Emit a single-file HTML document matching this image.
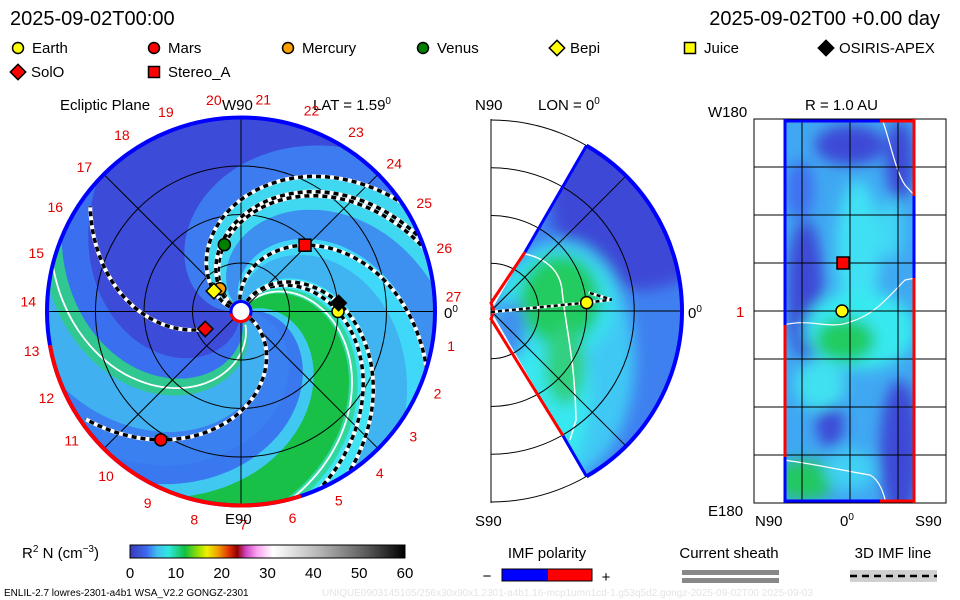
<!DOCTYPE html>
<html><head><meta charset="utf-8"><style>
html,body{margin:0;padding:0;background:#fff;}
svg{display:block;font-family:"Liberation Sans",sans-serif;}
</style></head><body>
<svg id="s" width="960" height="600" viewBox="0 0 960 600" xmlns="http://www.w3.org/2000/svg">
<defs>
<clipPath id="cMain"><circle cx="241" cy="311.5" r="194"/></clipPath>
<clipPath id="cWedge"><path d="M491,311 L586.5,145.6 A191,191 0 0 1 586.5,476.4 Z"/></clipPath>
<clipPath id="cBox"><rect x="784" y="119" width="131" height="384"/></clipPath>
<filter id="bl" x="-50%" y="-50%" width="200%" height="200%"><feGaussianBlur stdDeviation="7"/></filter>
<linearGradient id="cbar" x1="0" x2="1" y1="0" y2="0">
<stop offset="0" stop-color="#3a3ab8"/><stop offset="0.06" stop-color="#3c6af0"/><stop offset="0.1" stop-color="#40c0f0"/><stop offset="0.14" stop-color="#30e8e0"/><stop offset="0.2" stop-color="#10c040"/><stop offset="0.25" stop-color="#a0e000"/><stop offset="0.28" stop-color="#f0f000"/><stop offset="0.32" stop-color="#f0a000"/><stop offset="0.36" stop-color="#e03000"/><stop offset="0.39" stop-color="#900000"/><stop offset="0.42" stop-color="#d040c0"/><stop offset="0.46" stop-color="#f8a0f0"/><stop offset="0.52" stop-color="#ffffff"/><stop offset="0.7" stop-color="#b0b0b0"/><stop offset="0.85" stop-color="#606060"/><stop offset="1" stop-color="#000000"/>
</linearGradient>
</defs>

<text x="10" y="25" font-size="20">2025-09-02T00:00</text>
<text x="940" y="25" font-size="20" text-anchor="end">2025-09-02T00 +0.00 day</text>

<g id="legend" font-size="15"></g>

<g id="main">
<text x="60" y="110" font-size="15">Ecliptic Plane</text>
<text x="313" y="110" font-size="15">LAT = 1.59<tspan dy="-6" font-size="10">0</tspan></text>
<g id="mainField" clip-path="url(#cMain)"></g>
<g id="mainGrid"></g>
<g id="mainLines" clip-path="url(#cMain)"></g>
<g id="mainRim"></g>
<g id="mainLabels" font-size="14" fill="#e00000"></g>
<text x="222" y="110" font-size="15">W90</text>
<text x="225" y="524" font-size="15">E90</text>
<text x="444" y="318" font-size="15">0<tspan dy="-6" font-size="10">0</tspan></text>
<g id="mainPlanets"></g>
</g>

<g id="mid">
<text x="475" y="110" font-size="15">N90</text>
<text x="538" y="110" font-size="15">LON = 0<tspan dy="-6" font-size="10">0</tspan></text>
<text x="475" y="526" font-size="15">S90</text>
<text x="688" y="318" font-size="15">0<tspan dy="-6" font-size="10">0</tspan></text>
<g id="midArcs" fill="none" stroke="#000" stroke-width="1"></g>
<g clip-path="url(#cWedge)">
<rect x="491" y="119" width="200" height="385" fill="#3f80f0"/>
<g filter="url(#bl)">
<circle cx="640" cy="200" r="90" fill="#3c48d6"/>
<circle cx="600" cy="150" r="60" fill="#3c48d6"/>
<ellipse cx="560" cy="360" rx="75" ry="120" fill="#40c8f4"/>
<ellipse cx="545" cy="390" rx="45" ry="95" fill="#38e8f0"/>
<ellipse cx="555" cy="305" rx="60" ry="55" fill="#38e0f0"/>
<ellipse cx="560" cy="300" rx="40" ry="45" fill="#20cc60"/>
<ellipse cx="565" cy="365" rx="20" ry="40" fill="#30d080"/>
<ellipse cx="510" cy="330" rx="16" ry="30" fill="#3f90f0"/>
</g>
<path d="M525,254 C545,258 560,270 562,290 C566,330 575,360 576,420 L570,440" fill="none" stroke="#fff" stroke-width="1.5"/>
</g>
<g id="midGrid" stroke="#000" stroke-width="1" fill="none"></g>
<g id="midRim"></g>
<g id="midMarks"></g>
</g>

<g id="right">
<text x="805" y="110" font-size="15">R = 1.0 AU</text>
<text x="708" y="117" font-size="15">W180</text>
<text x="708" y="516" font-size="15">E180</text>
<text x="736" y="317" font-size="15" fill="#e00000">1</text>
<text x="755" y="526" font-size="15">N90</text>
<text x="840" y="526" font-size="15">0<tspan dy="-6" font-size="10">0</tspan></text>
<text x="915" y="526" font-size="15">S90</text>
<g clip-path="url(#cBox)">
<rect x="784" y="119" width="131" height="384" fill="#40a8f2"/>
<g filter="url(#bl)">
<ellipse cx="805" cy="290" rx="18" ry="70" fill="#3c48d6"/>
<ellipse cx="850" cy="145" rx="35" ry="20" fill="#3c48d6"/>
<ellipse cx="900" cy="450" rx="20" ry="70" fill="#3c48d6"/>
<ellipse cx="900" cy="160" rx="14" ry="40" fill="#3c48d6"/>
<ellipse cx="830" cy="425" rx="14" ry="22" fill="#3c48d6"/>
<ellipse cx="800" cy="190" rx="14" ry="30" fill="#3f70f0"/>
<ellipse cx="858" cy="250" rx="22" ry="70" fill="#40e0f4"/>
<ellipse cx="860" cy="330" rx="55" ry="40" fill="#38e8f0"/>
<ellipse cx="845" cy="340" rx="30" ry="22" fill="#20cc60"/>
<ellipse cx="820" cy="385" rx="25" ry="25" fill="#40e0f0"/>
<ellipse cx="805" cy="480" rx="30" ry="20" fill="#20c860"/>
<ellipse cx="850" cy="470" rx="25" ry="20" fill="#40d0f4"/>
<ellipse cx="890" cy="230" rx="12" ry="30" fill="#40d8f4"/>
</g>
<path d="M784,325 C810,318 830,330 850,322 C875,315 890,295 905,280 L915,278" fill="none" stroke="#fff" stroke-width="1.2"/>
<path d="M784,460 C820,465 840,470 870,475 C880,480 884,495 886,503" fill="none" stroke="#fff" stroke-width="1.2"/>
<path d="M882,119 C890,140 895,170 905,185 L915,196" fill="none" stroke="#fff" stroke-width="1.2"/>
</g>
<g id="rightGrid" stroke="#000" stroke-width="1"></g>
<g id="rightMarks"></g>
</g>

<g>
<text x="22" y="558" font-size="15">R<tspan dy="-6" font-size="10">2</tspan><tspan dy="6"> N (cm</tspan><tspan dy="-6" font-size="10">−3</tspan><tspan dy="6">)</tspan></text>
<rect x="130" y="545" width="275" height="13" fill="url(#cbar)" stroke="#000" stroke-width="1"/>
<g id="cbTicks" font-size="15" text-anchor="middle"></g>
</g>
<g>
<text x="547" y="558" font-size="15" text-anchor="middle">IMF polarity</text>
<text x="487" y="581" font-size="15" text-anchor="middle">−</text>
<rect x="502" y="569" width="46" height="12" fill="#0000ff"/>
<rect x="548" y="569" width="44" height="12" fill="#ff0000"/>
<rect x="502" y="569" width="90" height="12" fill="none" stroke="#000"/>
<text x="606" y="582" font-size="15" text-anchor="middle">+</text>
</g>
<g>
<text x="729" y="558" font-size="15" text-anchor="middle">Current sheath</text>
<rect x="682" y="570" width="97" height="5" fill="#888"/>
<rect x="682" y="578" width="97" height="5" fill="#888"/>
</g>
<g>
<text x="893" y="558" font-size="15" text-anchor="middle">3D IMF line</text>
<rect x="850" y="570" width="87" height="12" fill="#d0d0d0"/>
<line x1="850" y1="576" x2="937" y2="576" stroke="#000" stroke-width="2.5" stroke-dasharray="7,5"/>
</g>
<text x="4" y="596" font-size="10">ENLIL-2.7 lowres-2301-a4b1 WSA_V2.2 GONGZ-2301</text>
<text x="322" y="596" font-size="10" fill="#e4e4e4">UNIQUE0903145105/256x30x90x1.2301-a4b1.16-mcp1umn1cd-1.g53q5d2.gongz-2025-09-02T00   2025-09-03</text>
</svg>
<script>
// ---- data ----
const planetNames = ["Earth","Mars","Mercury","Venus","Bepi","SolO","Stereo_A","OSIRIS-APEX"];
const planetR = [1.0, 1.56, 0.32, 0.71, 0.35, 0.41, 0.95, 1.01];
const planetLon = [0, 238, 133, 104, 143, 206, 46, 5];
const planetShape = ["circle","circle","circle","circle","diamond","diamond","square","diamond"];
const planetColor = ["#ffff00","#ff0000","#ffa000","#008000","#ffff00","#ff0000","#ff0000","#000000"];
const spiralPlanets = ["Earth","Mars","Venus","Mercury","Bepi","SolO","Stereo_A","OSIRIS-APEX"];
const spiralWind = [66, 60, 66, 66, 66, 41, 60, 62];   // deg per AU
const spiralOuter = [2.05, 1.95, 2.05, 2.05, 2.05, 1.9, 2.05, 2.05]; // AU
const bandStart = [0,15,25,55,62,75,100,115,140,165,190,270,290,305,335];
const bandColor = ["#3a78f0","#40c8f0","#18c048","#30d8a0","#40e4f4","#40b4f0","#40d8f8","#3d90f0","#40d8f0","#3d7cf0","#3c4cd8","#3a70f0","#30c890","#40b0f0","#3a80f0"];
const sheathPsi = [57, 298];
const rotLabels = [1,2,3,4,5,6,7,8,9,10,11,12,13,14,15,16,17,18,19,20,21,22,23,24,25,26,27];
const cbTickVals = [0,10,20,30,40,50,60];
const legendNames = ["Earth","Mars","Mercury","Venus","Bepi","Juice","OSIRIS-APEX","SolO","Stereo_A"];
const legendShape = ["circle","circle","circle","circle","diamond","square","diamond","diamond","square"];
const legendColor = ["#ffff00","#ff0000","#ffa000","#008000","#ffff00","#ffff00","#000000","#ff0000","#ff0000"];
const rimRed = [190, 288];
const earthLatDeg = 5;
const rightStereoLat = 0.5, rightStereoLon = 45;

// ---- geometry ----
const NS="http://www.w3.org/2000/svg";
const CX=241, CY=311.5, RMAX=194, AU=97, K=0.68;
function px(rAU, deg){const a=deg*Math.PI/180;return [CX+rAU*AU*Math.cos(a), CY-rAU*AU*Math.sin(a)];}
function pxPix(rp, deg){const a=deg*Math.PI/180;return [CX+rp*Math.cos(a), CY-rp*Math.sin(a)];}
function el(tag, attrs, parent){const e=document.createElementNS(NS,tag);for(const k in attrs)e.setAttribute(k,attrs[k]);parent.appendChild(e);return e;}
function marker(parent,shape,x,y,color,s){
  let e;
  if(shape==="circle") e=el("circle",{cx:x,cy:y,r:s,fill:color,stroke:"#000","stroke-width":1.5},parent);
  else if(shape==="square") e=el("rect",{x:x-s,y:y-s,width:2*s,height:2*s,fill:color,stroke:"#000","stroke-width":1.5},parent);
  else e=el("polygon",{points:`${x},${y-s*1.4} ${x+s*1.4},${y} ${x},${y+s*1.4} ${x-s*1.4},${y}`,fill:color,stroke:"#000","stroke-width":1.5},parent);
  return e;
}
function spiralPts(psi, r0, r1, k){k=k||K;let p=[];for(let r=r0;r<=r1;r+=3){const q=pxPix(r,psi-k*r);p.push(q[0].toFixed(1)+","+q[1].toFixed(1));}return p;}

// field bands
const field=document.getElementById("mainField");
const ROUT=210;
for(let i=0;i<bandStart.length;i++){
  const a=bandStart[i], b=(i+1<bandStart.length)?bandStart[i+1]:360;
  for(const off of [0,360]){
    const p1=spiralPts(a+off,0,ROUT);
    const arc=[];
    for(let d=a+off;d<=b+off;d+=2){const q=pxPix(ROUT,d-K*ROUT);arc.push(q[0].toFixed(1)+","+q[1].toFixed(1));}
    const p2=spiralPts(b+off,0,ROUT).reverse();
    const poly=el("polygon",{points:p1.concat(arc,p2).join(" "),fill:bandColor[i],stroke:bandColor[i],"stroke-width":1},field);
    
    
  }
}
for(const ps of sheathPsi){
  const pl=el("polyline",{points:spiralPts(ps,14,RMAX+10).join(" "),fill:"none",stroke:"#fff","stroke-width":1.8},field);
  
  
}

// grid
const grid=document.getElementById("mainGrid");
[0.5,1,1.5].forEach(r=>{const c=el("circle",{cx:CX,cy:CY,r:r*AU,fill:"none",stroke:"#000","stroke-width":1},grid);

});
[0,45,90,135].forEach(d=>{const a=pxPix(RMAX,d),b=pxPix(RMAX,d+180);const l=el("line",{x1:a[0],y1:a[1],x2:b[0],y2:b[1],stroke:"#000","stroke-width":1},grid);

});

// IMF spirals
const lines=document.getElementById("mainLines");
spiralPlanets.forEach((n,j)=>{
  const i=planetNames.indexOf(n); const k=spiralWind[j]/AU;
  const psi=planetLon[i]+k*planetR[i]*AU;
  const r0 = n==="SolO" ? planetR[i]*AU : 12;
  const pts=spiralPts(psi,r0,spiralOuter[j]*AU,k).join(" ");
  const w=el("polyline",{points:pts,fill:"none",stroke:"#fff","stroke-width":4},lines);
  
  
  const d=el("polyline",{points:pts,fill:"none",stroke:"#000","stroke-width":3.5,"stroke-dasharray":"5,4"},lines);
  
  
});

// rim
const rim=document.getElementById("mainRim");
el("circle",{cx:CX,cy:CY,r:RMAX,fill:"none",stroke:"#0000ff","stroke-width":4},rim);
(function(){const a=pxPix(RMAX,rimRed[0]),b=pxPix(RMAX,rimRed[1]);
const p=el("path",{d:`M${a[0]},${a[1]} A${RMAX},${RMAX} 0 0 0 ${b[0]},${b[1]}`,fill:"none",stroke:"#ff0000","stroke-width":4},rim);

})();
el("circle",{cx:CX,cy:CY,r:10,fill:"#fff",stroke:"#0000ff","stroke-width":3},rim);
el("path",{d:`M${CX-10},${CY+2} A10,10 0 0 0 ${CX+9},${CY+4}`,fill:"none",stroke:"#ff0000","stroke-width":3},rim);

// rotation labels
const lab=document.getElementById("mainLabels");
rotLabels.forEach(n=>{const q=pxPix(213,4+(27-n)*13.333);
const t=el("text",{x:q[0],y:q[1]+5,"text-anchor":"middle"},lab);t.textContent=n;

});

// planets
const pm=document.getElementById("mainPlanets");
planetNames.forEach((n,i)=>{const q=px(planetR[i],planetLon[i]);
const m=marker(pm,planetShape[i],q[0],q[1],planetColor[i],planetShape[i]==="diamond"?5.5:6);

});

// legend
const lg=document.getElementById("legend");
const lgX=[18,154,288,423,557,690,826,18,154], lgY=[48,48,48,48,48,48,48,72,72];
legendNames.forEach((n,i)=>{
  const m=marker(lg,legendShape[i],lgX[i],lgY[i],legendColor[i],5.5);
  
  
  const t=el("text",{x:lgX[i]+(legendShape[i]==="diamond"?13:14),y:lgY[i]+5},lg);t.textContent=n;
  
  
});

// middle panel
const MX=491, MY=311, MR=191;
const arcs=document.getElementById("midArcs");
[MR/4,MR/2,MR*3/4,MR].forEach(r=>{const p=el("path",{d:`M${MX},${MY-r} A${r},${r} 0 0 1 ${MX},${MY+r}`},arcs);

});
const mg=document.getElementById("midGrid");
el("line",{x1:MX,y1:MY-MR-1,x2:MX,y2:MY+MR+1},mg);
el("line",{x1:MX,y1:MY,x2:MX+MR,y2:MY},mg);
[45,-45].forEach(d=>{const a=d*Math.PI/180;el("line",{x1:MX,y1:MY,x2:MX+MR*Math.cos(a),y2:MY-MR*Math.sin(a)},mg);});
[MR/4,MR/2,MR*3/4].forEach(r=>{el("path",{d:`M${MX+r*Math.cos(1.047)},${MY-r*Math.sin(1.047)} A${r},${r} 0 0 1 ${MX+r*Math.cos(1.047)},${MY+r*Math.sin(1.047)}`},mg);});
const mr=document.getElementById("midRim");
function wp(r,d){const a=d*Math.PI/180;return [MX+r*Math.cos(a),MY-r*Math.sin(a)];}
let A=wp(MR,60),B=wp(MR,-60),U=wp(68,60),L=wp(144,-60);
el("path",{d:`M${A[0]},${A[1]} A${MR},${MR} 0 0 1 ${B[0]},${B[1]}`,fill:"none",stroke:"#0000ff","stroke-width":4},mr);
el("line",{x1:A[0],y1:A[1],x2:U[0],y2:U[1],stroke:"#0000ff","stroke-width":3},mr);
el("polyline",{points:`${U[0]},${U[1]} ${MX},${MY-8} ${MX+3},${MY} ${MX},${MY+8} ${L[0]},${L[1]}`,fill:"none",stroke:"#ff0000","stroke-width":3},mr);
el("line",{x1:L[0],y1:L[1],x2:B[0],y2:B[1],stroke:"#0000ff","stroke-width":3},mr);
const mm=document.getElementById("midMarks");
(function(){const i=planetNames.indexOf("Earth");const q=wp(planetR[i]*96,earthLatDeg);
el("polyline",{points:`${MX},${MY+1} ${q[0]},${q[1]} ${q[0]+25},${q[1]-3} ${q[0]+2},${q[1]-10}`,fill:"none",stroke:"#fff","stroke-width":3},mm);
const ln2=el("polyline",{points:`${MX},${MY+1} ${q[0]},${q[1]} ${q[0]+25},${q[1]-3} ${q[0]+2},${q[1]-10}`,fill:"none",stroke:"#000","stroke-width":2.5,"stroke-dasharray":"4,3"},mm);


const m=marker(mm,"circle",q[0],q[1],"#ffff00",6);

})();

// right panel
const rg=document.getElementById("rightGrid");
el("rect",{x:754,y:119,width:192,height:384,fill:"none"},rg);
[167,215,263,311,359,407,455].forEach(y=>el("line",{x1:754,y1:y,x2:946,y2:y},rg));
[802,850,898].forEach(x=>el("line",{x1:x,y1:119,x2:x,y2:503},rg));
const rm=document.getElementById("rightMarks");
const segs=[[784,121,880,121,"#0000ff"],[880,121,915,121,"#ff0000"],[784,501,880,501,"#0000ff"],[880,501,915,501,"#ff0000"],
[785,119,785,325,"#0000ff"],[785,325,785,457,"#ff0000"],[785,457,785,503,"#0000ff"],
[914,119,914,196,"#ff0000"],[914,196,914,278,"#0000ff"],[914,278,914,503,"#ff0000"]];
segs.forEach(s=>{const l=el("line",{x1:s[0],y1:s[1],x2:s[2],y2:s[3],stroke:s[4],"stroke-width":3},rm);

});
function rpx(latDeg, lonDeg){return [849.5-latDeg*131/180, 311-lonDeg*384/360];}
(function(){let q=rpx(rightStereoLat,rightStereoLon);
const s=marker(rm,"square",843,q[1],"#ff0000",6);


q=rpx(0,0);
const e=marker(rm,"circle",842,q[1],"#ffff00",6);

})();

// colorbar ticks
const cbt=document.getElementById("cbTicks");
cbTickVals.forEach(v=>{const x=130+v/60*275;
const t=el("text",{x:x,y:578},cbt);t.textContent=v;

});
</script>
</body></html>
